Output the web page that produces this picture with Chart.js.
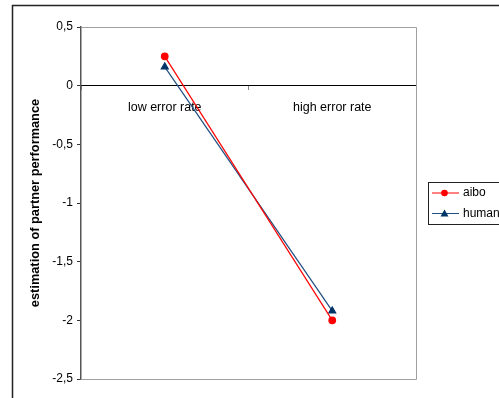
<!DOCTYPE html>
<html>
<head>
<meta charset="utf-8">
<script src="https://cdn.jsdelivr.net/npm/chart.js@4/dist/chart.umd.min.js"></script>
<style>
  html, body { margin: 0; padding: 0; background: #fff; }
  #wrap { width: 499px; height: 398px; }
</style>
</head>
<body>
<div id="wrap"><canvas id="myChart" width="499" height="398"></canvas></div>
<script>
const categories = ['low error rate', 'high error rate'];
const aiboValues = [0.25, -2.0];
const humanValues = [0.16, -1.92];
const seriesNames = ['aibo', 'human'];
const yTicks = [0.5, 0, -0.5, -1, -1.5, -2, -2.5];

const FONT = "'Liberation Sans', Arial, sans-serif";

// outer frame, plot-area frame and the boxed legend
const framePlugin = {
  id: 'frame',
  beforeDraw(chart) {
    const c = chart.ctx;
    c.save();
    c.fillStyle = '#fff';
    c.fillRect(0, 0, chart.width, chart.height);
    c.strokeStyle = '#222';
    c.lineWidth = 1.5;
    c.strokeRect(12.5, 5.5, 700, 700);
    c.restore();
  },
  afterDraw(chart) {
    const c = chart.ctx;
    const a = chart.chartArea;
    c.save();
    c.strokeStyle = '#a0a0a0';
    c.lineWidth = 1;
    c.beginPath();
    c.moveTo(a.left, a.top + 0.5);
    c.lineTo(a.right + 0.5, a.top + 0.5);
    c.lineTo(a.right + 0.5, a.bottom + 0.5);
    c.lineTo(a.left, a.bottom + 0.5);
    c.stroke();

    // legend
    const lx = 428, ly = 182, lw = 90, lh = 42;
    c.strokeStyle = '#222';
    c.lineWidth = 1;
    c.strokeRect(lx + 0.5, ly + 0.5, lw, lh);
    c.font = '12px ' + FONT;
    c.textBaseline = 'middle';
    chart.data.datasets.forEach((ds, i) => {
      const y = ly + 11 + i * 20.5;
      c.strokeStyle = ds.borderColor;
      c.lineWidth = 1;
      c.beginPath();
      c.moveTo(lx + 4, y);
      c.lineTo(lx + 31, y);
      c.stroke();
      c.fillStyle = ds.pointBackgroundColor;
      c.beginPath();
      if (ds.pointStyle === 'triangle') {
        c.moveTo(lx + 16.5, y - 4);
        c.lineTo(lx + 20.5, y + 3);
        c.lineTo(lx + 12.5, y + 3);
        c.closePath();
      } else {
        c.arc(lx + 16.5, y, 3.3, 0, Math.PI * 2);
      }
      c.fill();
      c.fillStyle = '#000';
      c.fillText(ds.label, lx + 35, y);
    });
    c.restore();
  }
};

const ctx = document.getElementById('myChart').getContext('2d');
const myChart = new Chart(ctx, {
  type: 'line',
  data: {
    labels: categories,
    datasets: [{
      label: seriesNames[0],
      data: aiboValues,
      borderColor: '#ff0000',
      backgroundColor: '#ff0000',
      pointBackgroundColor: '#ff0000',
      pointBorderColor: '#ff0000',
      pointStyle: 'circle',
      pointRadius: 3.3,
      borderWidth: 1.2,
      tension: 0
    }, {
      label: seriesNames[1],
      data: humanValues,
      borderColor: '#1f4e80',
      backgroundColor: '#003366',
      pointBackgroundColor: '#003366',
      pointBorderColor: '#003366',
      pointStyle: 'triangle',
      pointRadius: 4,
      borderWidth: 1.2,
      tension: 0
    }]
  },
  options: {
    responsive: false,
    animation: false,
    layout: { padding: { left: 0, right: 83, top: 27, bottom: 19 } },
    plugins: {
      legend: { display: false },
      tooltip: { enabled: false }
    },
    scales: {
      x: {
        position: { y: 0 },
        offset: true,
        afterFit(scale) { scale.height = 0; },
        border: { color: '#000', width: 1 },
        grid: { drawOnChartArea: false, offset: true, tickLength: 4, color: '#888' },
        ticks: { color: '#000', font: { size: 12.5, family: FONT }, padding: 10 }
      },
      y: {
        min: -2.5,
        max: 0.5,
        afterFit(scale) { scale.width = 81; },
        afterBuildTicks(scale) { scale.ticks = yTicks.map(v => ({ value: v })); },
        border: { color: '#555', width: 1.5 },
        grid: { drawOnChartArea: false, tickLength: 4, color: '#333' },
        ticks: {
          color: '#000',
          font: { size: 12, family: FONT },
          padding: 4,
          callback: (v) => String(v).replace('.', ',')
        },
        title: {
          display: true,
          text: 'estimation of partner performance',
          color: '#000',
          font: { size: 12.8, weight: 'bold', family: FONT },
          padding: { top: 28, bottom: 0 }
        }
      }
    }
  },
  plugins: [framePlugin]
});
</script>
</body>
</html>
